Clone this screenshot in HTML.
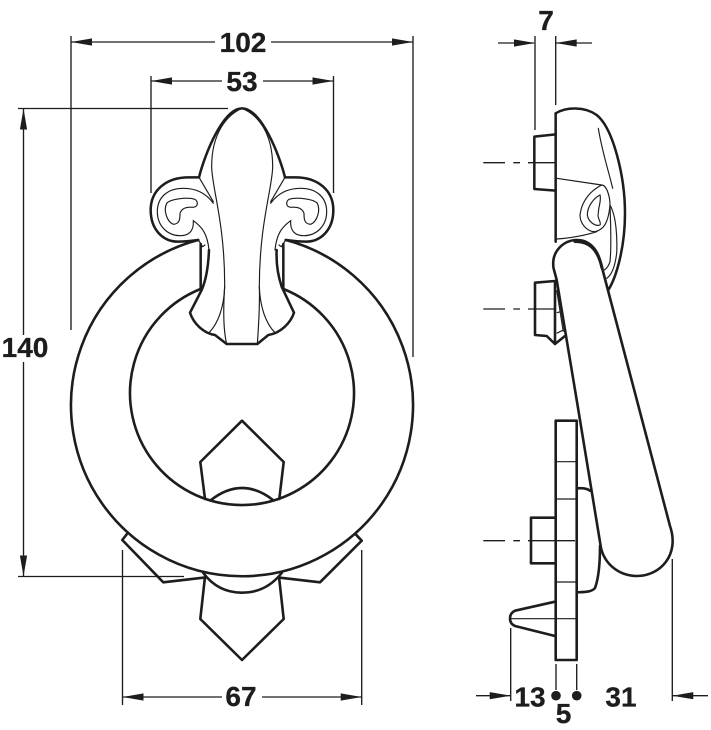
<!DOCTYPE html>
<html>
<head>
<meta charset="utf-8">
<style>
html,body{margin:0;padding:0;background:#fff;width:711px;height:730px;overflow:hidden}
svg{display:block}
text{font-family:"Liberation Sans",sans-serif;font-weight:bold;font-size:28px;fill:#1d1d1b;stroke:#1d1d1b;stroke-width:0.3}
.t{fill:none;stroke:#1d1d1b;stroke-width:2.6;stroke-linejoin:round;stroke-linecap:round}
.n{fill:none;stroke:#1d1d1b;stroke-width:1.2}
.d{fill:none;stroke:#1d1d1b;stroke-width:1.35}
.a{fill:#1d1d1b;stroke:none}
.zt{fill:none;stroke:#1d1d1b;stroke-width:7.6;stroke-linejoin:round;stroke-linecap:round}
.zn{fill:none;stroke:#1d1d1b;stroke-width:3.5;stroke-linecap:round}
</style>
</head>
<body>
<svg width="711" height="730" viewBox="0 0 711 730" xmlns="http://www.w3.org/2000/svg">
<!-- dimension lines front -->
<path class="d" d="M71,36V330M413,36V357M151,76V193M333.5,76V193M23.5,108.5V335M23.5,362V576.5M18,108.5H228M18,576.5H184M122.5,550V705M361.7,550V705"/>
<path class="d" d="M71,42H215M271,42H413M151,81H222M263,81H333.5M122.5,697H222M262,697H361.7"/>
<path class="a" d="M71,42l21,-3.6v7.2zM413,42l-21,-3.6v7.2zM151,81l21,-3.6v7.2zM333.5,81l-21,-3.6v7.2zM23.5,108.5l-3.6,21h7.2zM23.5,576.5l-3.6,-21h7.2zM122.5,697l21,-3.6v7.2zM361.7,697l-21,-3.6v7.2z"/>
<text x="243" y="52" text-anchor="middle">102</text>
<text x="242" y="91" text-anchor="middle">53</text>
<text x="25" y="357" text-anchor="middle">140</text>
<text x="241" y="706" text-anchor="middle">67</text>

<!-- ring -->
<path class="t" d="M198,240A171,171 0 1 0 286,240"/>
<path class="t" d="M200.500,289A112,112 0 1 0 283.500,289"/>
<!-- lower inner pentagon -->
<path class="t" d="M205,499L200.300,462L242,420.700L283.700,462L279.300,499M211,500Q242,476 273,500"/>
<!-- back plate -->
<path class="t" d="M126.700,534.300L122.300,540L163.300,582.300L203.300,577.700M355.700,534.300L361.700,540.700L320,582.300L280,577.700"/>
<path class="t" d="M205,576.700L200.300,619L242,660L283.700,619L279,576.700M203.300,573Q218,592.700 242,592.700Q266,592.700 281.700,573"/>

<!-- fleur -->
<g transform="translate(130,90) scale(0.33333)">
  <path class="zt" d="M207,262C225,190 280,55 336,55C392,55 447,190 465,262"/>
  <path class="zn" d="M336,55C290,75 245,130 245,230C245,290 285,400 284,590C280,650 280,720 290,762"/>
  <path class="zn" d="M336,55C385,75 428,130 428,230C428,290 388,400 388,590C390,650 385,720 382,762"/>
  <path class="zn" d="M284,590C282,650 265,700 237,728M388,590C390,650 407,700 435,728"/>
  <path class="zt" d="M237,480C235,530 228,570 215,600L180,668C190,700 220,730 255,735L290,762H382L415,735C450,730 482,700 492,668L455,590C445,560 438,520 440,480"/>
  <g id="sc">
    <path class="zt" d="M207,262H175C110,262 62,300 62,360C62,420 100,455 145,455C170,455 190,452 205,450"/>
    <path class="zn" d="M207,262L250,335M250,340C225,305 190,295 160,295C115,295 82,320 82,365C82,410 115,437 150,437C175,437 192,425 190,392C215,410 232,430 237,480"/>
    <path class="zn" d="M110,340C120,328 170,320 195,328C205,335 205,350 190,352C170,350 155,355 150,370C150,385 150,402 130,403C110,395 100,360 110,340Z"/>
    <path class="zt" d="M212,462V595"/>
    <path class="zn" d="M205,450L218,470L225,465"/>
  </g>
  <use href="#sc" transform="translate(672,0) scale(-1,1)"/>
</g>

<!-- side view: head -->
<g transform="translate(470,90) scale(0.33333)">
  <path class="zt" d="M257,70C290,50 345,50 380,75C430,115 465,260 465,370C465,470 440,560 415,600"/>
  <path class="zt" d="M257,70V455"/>
  <path class="zt" d="M257,133L193,140V297L257,302"/>
  <path class="zn" d="M260,265L395,285M385,115C395,180 415,240 428,295"/>
  <path class="zn" d="M395,285C410,285 420,320 420,345C415,400 400,420 375,425C350,425 330,400 330,375C335,330 365,300 395,285Z"/>
  <path class="zn" d="M390,315C370,325 352,350 352,375C355,395 375,410 390,405C395,395 380,385 385,370C385,350 395,330 390,315Z"/>
  <path class="zn" d="M260,447C300,445 350,435 380,425"/>
  <path class="zn" d="M420,345C440,380 442,450 440,490C435,530 425,555 410,565M420,345C422,400 425,470 420,515C415,530 410,535 403,540"/>
</g>
<!-- bolt 2 -->
<path class="t" d="M555,281L535,282.700V335L546.700,336L555,344L565,336M555,281V344"/>
<path class="n" d="M556.700,312.700L560.700,311.700M556.700,333.300L563.300,330M556.700,290L563.300,331.700"/>
<!-- handle -->
<path class="t" style="fill:#fff" d="M556.700,280L553.500,268C551,250 565,240 577,240C590,240 597,250 600,260L670,526C680,555 660,576 637,576C620,576 605,565 601,548L576.700,400Z"/>
<path class="t" style="stroke-width:3" d="M575,241.500C590,241.500 598,250 602,268"/>
<!-- centre dashes -->
<path class="d" d="M483.300,162.700H505M513.300,162.700H520M528,162.700H555M483.300,309H505M513.300,309H520M528,309H555M483.300,540.700H505M513.300,540.700H520M528,540.700H575"/>
<!-- lower plate -->
<rect class="t" x="555.700" y="420.700" width="21" height="239.300"/>
<path class="n" d="M556,461.700H576M556,499H576M556,582H576M510,618.700H576"/>
<path class="t" d="M555,517.700H531V563.300H555"/>
<path class="t" d="M555,601.700L515,610.700Q510,613 510,618.300Q510,624 515,626L555,636"/>
<path class="t" d="M577.300,488.300C582,488 587,488.500 590,490.700M577.300,592.300C585,592 592,592 595,588C598,580 600,565 600,546"/>

<!-- side dims -->
<path class="d" d="M535,36V130M555.700,36V105M498,43H534M556,43H592M556,664V690M576.700,664V690M510.700,628V701M672.300,559V701M476,695.700H510M672,695.700H708"/>
<path class="a" d="M535,43l-21,-3.600v7.200zM555.700,43l21,-3.600v7.200zM510.700,695.700l-21,-3.600v7.200zM672.300,695.700l21,-3.600v7.200z"/>
<circle class="a" cx="556" cy="695.700" r="4.800"/>
<circle class="a" cx="576.700" cy="695.700" r="4.800"/>
<text x="546" y="30" text-anchor="middle">7</text>
<text x="530" y="706.500" text-anchor="middle">13</text>
<text x="563.500" y="723" text-anchor="middle">5</text>
<text x="621" y="706.500" text-anchor="middle">31</text>
</svg>
</body>
</html>
